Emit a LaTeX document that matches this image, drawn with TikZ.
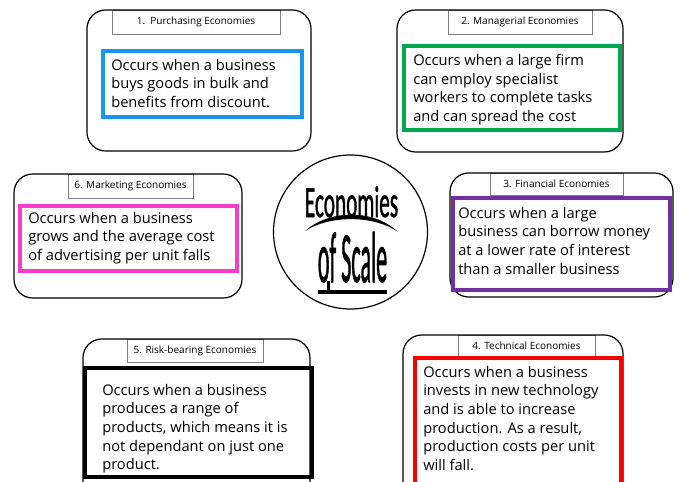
\documentclass[tikz,border=0pt]{standalone}
\usepackage{fontspec}
\setmainfont{Open Sans}
\newfontfamily\headfont[FakeBold=1.5]{Carlito}

\definecolor{purchBlue}{RGB}{24,150,245}
\definecolor{manGreen}{RGB}{0,168,80}
\definecolor{finPurple}{RGB}{112,48,160}
\definecolor{mktPink}{RGB}{250,60,200}
\definecolor{techRed}{RGB}{255,0,0}

\tikzset{
  panel/.style={line width=0.9pt, rounded corners=14pt},
  tabbox/.style={draw=gray, line width=0.5pt, fill=white},
  tabtext/.style={inner sep=0.75pt, font=\fontsize{7.5pt}{9pt}\selectfont},
  descbox/.style={line width=3pt},
  desctext/.style={anchor=north west, inner sep=0pt, align=left,
    font=\fontsize{11pt}{13.9pt}\selectfont},
}

\begin{document}
\begin{tikzpicture}[x=0.75pt,y=0.75pt,yscale=-1,xscale=1]
    \useasboundingbox (0,0) rectangle (680,481);

    %Shape: Rectangle
    \draw [tabbox] (112,10) rectangle (280,34) ;
    %Rounded Rect
    \draw [panel] (87,10) rectangle (311,151) ;
    %Shape: Rectangle
    \draw [descbox, draw=purchBlue] (103,51) rectangle (302,117) ;

    %Shape: Rectangle
    \draw [tabbox] (448,10) rectangle (592,34) ;
    %Rounded Rect
    \draw [panel] (397,10) rectangle (623,152) ;
    %Shape: Rectangle
    \draw [descbox, draw=manGreen] (404,46) rectangle (620,130) ;

    %Shape: Rectangle
    \draw [tabbox] (68,174) rectangle (193,198) ;
    %Rounded Rect
    \draw [panel] (14,174) rectangle (242,298) ;
    %Shape: Rectangle
    \draw [descbox, draw=mktPink] (20,206) rectangle (237,271) ;

    %Shape: Rectangle
    \draw [tabbox] (490,173) rectangle (623,195) ;
    %Rounded Rect
    \draw [panel] (450,173) rectangle (673,297) ;
    %Shape: Rectangle
    \draw [descbox, draw=finPurple] (453,198) rectangle (670,290) ;

    %Shape: Rectangle
    \draw [tabbox] (127,339) rectangle (263,362) ;
    %Rounded Rect
    \draw [panel] (83,339) rectangle (310,505) ;
    %Shape: Rectangle
    \draw [descbox, draw=black] (85,368) rectangle (312,477) ;

    %Shape: Rectangle
    \draw [tabbox] (458,335) rectangle (595,357) ;
    %Rounded Rect
    \draw [panel] (403,335) rectangle (623,505) ;
    %Shape: Rectangle
    \draw [descbox, draw=techRed] (415,358) rectangle (621,500) ;

    %Shape: Circle
    \draw [line width=0.9pt] (350.5,232) circle (77) ;
    %Curve Lines
    \fill (305,231) .. controls (330,209) and (374,209) .. (398,232) .. controls (374,215) and (330,215) .. (305,231) -- cycle ;
    %Shape: Rectangle
    \fill (318,290) rectangle (387,294) ;
    %Straight Lines
    \draw [line width=1.6pt] (328.5,281) -- (328.5,291) ;

    % Text Node
    \draw (196,22) node [tabtext] (purchTab) {1.\ \ Purchasing Economies};
    % Text Node
    \draw (520,22) node [tabtext] (manTab) {2. Managerial Economies};
    % Text Node
    \draw (556.5,184) node [tabtext] (finTab) {3. Financial Economies};
    % Text Node
    \draw (526.5,346) node [tabtext] (techTab) {4. Technical Economies};
    % Text Node
    \draw (195,350.5) node [tabtext] (riskTab) {5. Risk-bearing Economies};
    % Text Node
    \draw (130.5,186) node [tabtext] (mktTab) {6. Marketing Economies};

    % Text Node
    \draw (111,59) node [desctext] (purchText) {Occurs when a business\\buys goods in bulk and\\benefits from discount.};
    % Text Node
    \draw (413,54) node [desctext] (manText) {Occurs when a large firm\\can employ specialist\\workers to complete tasks\\and can spread the cost};
    % Text Node
    \draw (458,207) node [desctext] (finText) {Occurs when a large\\business can borrow money\\at a lower rate of interest\\than a smaller business};
    % Text Node
    \draw (423,366) node [desctext] (techText) {Occurs when a business\\invests in new technology\\and is able to increase\\production. As a result,\\production costs per unit\\will fall.};
    % Text Node
    \draw (102,384) node [desctext] (riskText) {Occurs when a business\\produces a range of\\products, which means it is\\not dependant on just one\\product.};
    % Text Node
    \draw (28,212) node [desctext] (mktText) {Occurs when a business\\grows and the average cost\\of advertising per unit falls};

    % Text Node
    \draw (351.5,217) node [anchor=base, inner sep=0pt] (econTitle) {\resizebox{70pt}{23pt}{\headfont Economies}};
    % Text Node
    \draw (352.5,282) node [anchor=base, inner sep=0pt] (scaleTitle) {\resizebox{52pt}{37.5pt}{\headfont of Scale}};

\end{tikzpicture}
\end{document}
